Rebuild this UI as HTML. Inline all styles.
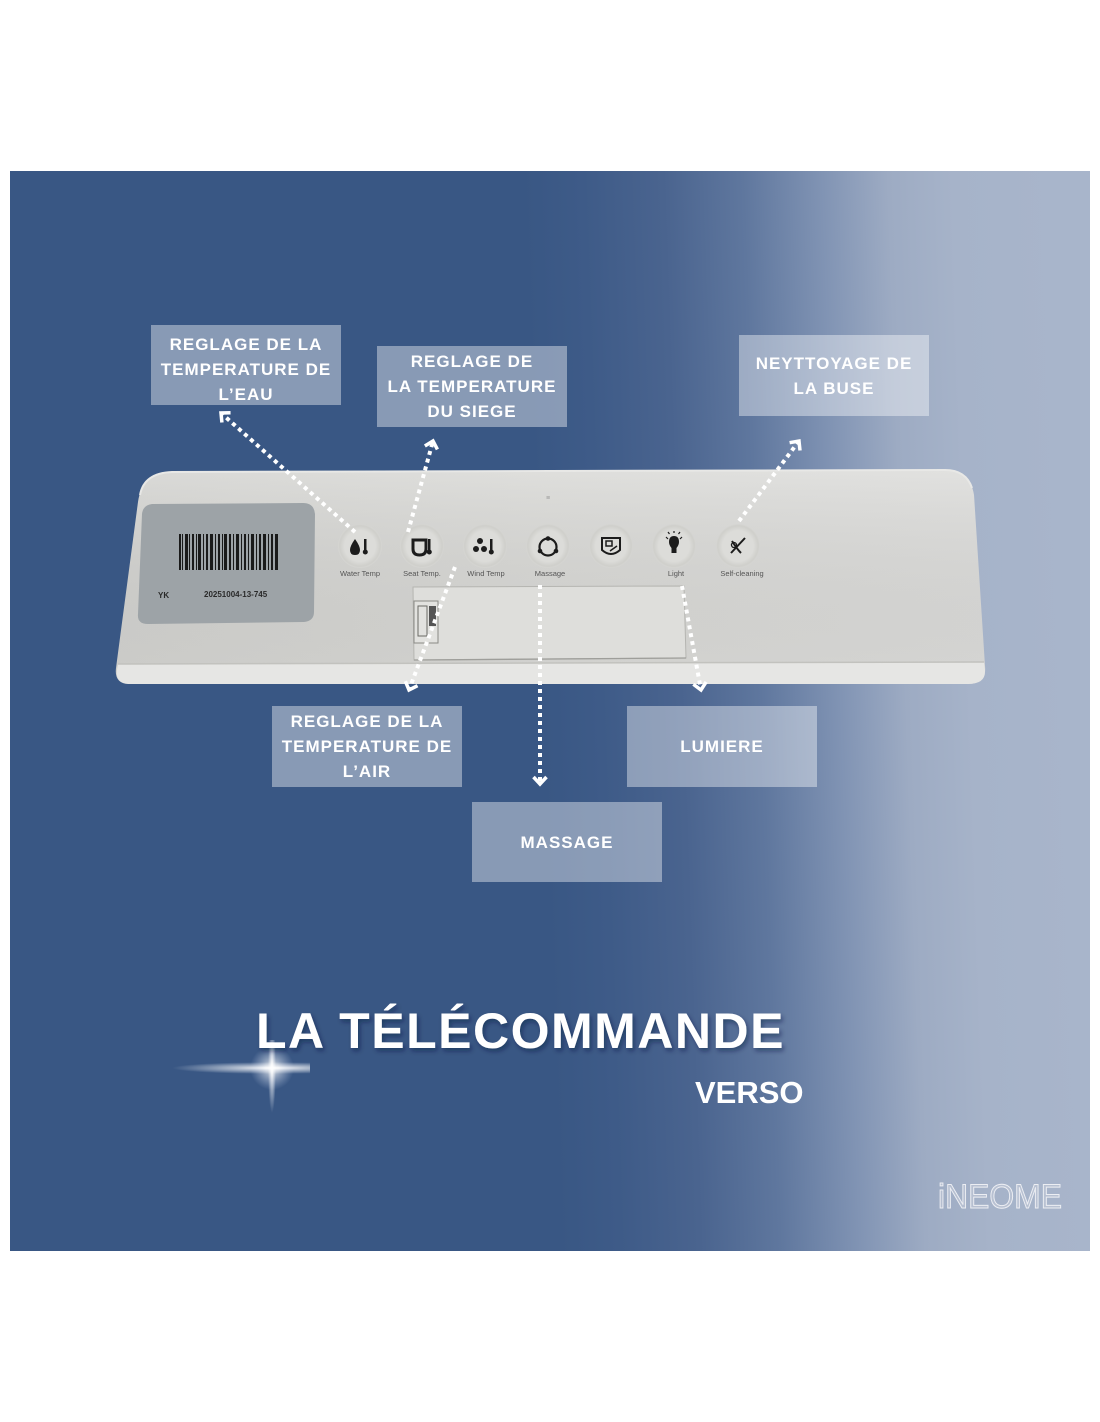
<!DOCTYPE html>
<html><head><meta charset="utf-8">
<style>
html,body{margin:0;padding:0;background:#fff;}
body{width:1100px;height:1422px;position:relative;overflow:hidden;font-family:"Liberation Sans",sans-serif;}
#bg{position:absolute;left:10px;top:171px;width:1080px;height:1080px;
background:linear-gradient(88deg,#395784 0px,#395784 550px,#3e5b88 610px,#4a648f 690px,#5f779e 770px,#8194b4 850px,#9dabc3 915px,#a6b3c9 980px,#a8b5cb 1080px);}
svg{position:absolute;left:0;top:0;}
.box{position:absolute;width:190px;height:81px;background:rgba(255,255,255,0.4);color:#fff;font-weight:bold;font-size:17px;line-height:25px;letter-spacing:1px;text-align:center;display:flex;align-items:center;justify-content:center;box-sizing:border-box;white-space:nowrap;}
</style></head><body>
<div id="bg"></div>
<svg width="1100" height="1422" viewBox="0 0 1100 1422">
<defs>
<linearGradient id="pg" x1="0" y1="0" x2="1" y2="0">
<stop offset="0" stop-color="#d3d3d0"/><stop offset="0.5" stop-color="#d9d9d6"/><stop offset="1" stop-color="#dcdcda"/>
</linearGradient>
<linearGradient id="pv" x1="0" y1="0" x2="0" y2="1">
<stop offset="0" stop-color="#fff" stop-opacity="0.15"/><stop offset="1" stop-color="#000" stop-opacity="0.03"/>
</linearGradient>
<radialGradient id="btn" cx="0.5" cy="0.5" r="0.5">
<stop offset="0.7" stop-color="#dcdcd9"/><stop offset="0.92" stop-color="#cfcfcb"/><stop offset="1" stop-color="#d6d6d3"/>
</radialGradient>
<radialGradient id="glowH" cx="0.5" cy="0.5" r="0.5">
<stop offset="0" stop-color="#fff" stop-opacity="1"/><stop offset="0.35" stop-color="#fff" stop-opacity="0.6"/><stop offset="1" stop-color="#fff" stop-opacity="0"/>
</radialGradient>
<radialGradient id="glowC" cx="0.5" cy="0.5" r="0.5">
<stop offset="0" stop-color="#fff" stop-opacity="1"/><stop offset="0.3" stop-color="#fff" stop-opacity="0.7"/><stop offset="1" stop-color="#c8d4ec" stop-opacity="0"/>
</radialGradient>
<clipPath id="spk"><rect x="150" y="1040" width="160" height="80"/></clipPath>
<marker id="ah" viewBox="-10 -10 20 20" markerWidth="20" markerHeight="20" markerUnits="userSpaceOnUse" orient="auto">
<path d="M-7 -6.5 L0 0 L-7 6.5" fill="none" stroke="#fff" stroke-width="3.5"/>
</marker>
<filter id="ts" x="-5%" y="-20%" width="110%" height="150%"><feDropShadow dx="2" dy="3" stdDeviation="2.5" flood-color="#0a1a3a" flood-opacity="0.45"/></filter>
</defs>

<!-- remote panel -->
<path id="pan" d="M172 472 L945 470 Q970 470 974 495 L985 666 Q987 684 968 684 L130 684 Q114 684 116 668 L138 502 Q142 473 172 472 Z" fill="url(#pg)"/>
<path d="M172 472 L945 470 Q970 470 974 495 L985 666 Q987 684 968 684 L130 684 Q114 684 116 668 L138 502 Q142 473 172 472 Z" fill="url(#pv)"/>
<path d="M118 664 L984 662 L985 670 Q986 684 968 684 L130 684 Q115 684 117 670 Z" fill="#e6e6e4"/>
<path d="M118 664 L984 662" stroke="#c2c2be" stroke-width="1.5"/>
<path d="M140 495 Q144 473 172 472 L945 470 Q966 470 972 488" fill="none" stroke="#e8e8e6" stroke-width="2"/>

<!-- barcode label -->
<path d="M152 504 L303 503 Q314 503 315 514 L314 612 Q314 621 304 622 L148 624 Q137 624 138 614 L142 514 Q143 505 152 504 Z" fill="#9da3a7"/>
<g fill="#1a1a1a">
<rect x="179" y="534" width="2" height="36"/><rect x="182" y="534" width="1" height="36"/><rect x="185" y="534" width="3" height="36"/><rect x="189" y="534" width="1" height="36"/><rect x="192" y="534" width="2" height="36"/><rect x="196" y="534" width="1" height="36"/><rect x="198" y="534" width="3" height="36"/><rect x="203" y="534" width="1" height="36"/><rect x="206" y="534" width="2" height="36"/><rect x="210" y="534" width="3" height="36"/><rect x="215" y="534" width="1" height="36"/><rect x="218" y="534" width="2" height="36"/><rect x="222" y="534" width="1" height="36"/><rect x="224" y="534" width="3" height="36"/><rect x="229" y="534" width="2" height="36"/><rect x="233" y="534" width="1" height="36"/><rect x="236" y="534" width="3" height="36"/><rect x="241" y="534" width="1" height="36"/><rect x="244" y="534" width="2" height="36"/><rect x="248" y="534" width="1" height="36"/><rect x="251" y="534" width="3" height="36"/><rect x="256" y="534" width="1" height="36"/><rect x="259" y="534" width="2" height="36"/><rect x="263" y="534" width="3" height="36"/><rect x="268" y="534" width="1" height="36"/><rect x="271" y="534" width="2" height="36"/><rect x="275" y="534" width="3" height="36"/>
</g>
<text x="158" y="598" font-size="8" font-weight="bold" fill="#2a2a2a">YK</text>
<text x="204" y="597" font-size="8" font-weight="bold" fill="#2a2a2a">20251004-13-745</text>

<text x="548" y="500" font-size="7" fill="#999" text-anchor="middle">≡</text>

<!-- buttons -->
<g>
<circle cx="360" cy="546" r="22" fill="url(#btn)"/>
<circle cx="422" cy="546" r="22" fill="url(#btn)"/>
<circle cx="485" cy="546" r="22" fill="url(#btn)"/>
<circle cx="548" cy="546" r="22" fill="url(#btn)"/>
<circle cx="611" cy="546" r="22" fill="url(#btn)"/>
<circle cx="674" cy="546" r="22" fill="url(#btn)"/>
<circle cx="738" cy="546" r="22" fill="url(#btn)"/>
</g>
<g fill="#1c1c1c" stroke="none">
<path d="M355 539 Q350 546 350 550 Q350 555 355 555 Q360 555 360 550 Q360 546 355 539Z"/>
<rect x="364" y="539" width="2.5" height="12"/><circle cx="365.3" cy="552" r="2.5"/>
<path d="M413 540 L426 540 L426 549 Q426 555 419.5 555 Q413 555 413 549Z" fill="none" stroke="#1c1c1c" stroke-width="3"/>
<rect x="428" y="539" width="2.5" height="12"/><circle cx="429.3" cy="552" r="2.5"/>
<circle cx="480" cy="541" r="3"/><circle cx="476" cy="549" r="3"/><circle cx="484" cy="549" r="3"/>
<rect x="490" y="539" width="2.5" height="12"/><circle cx="491.3" cy="552" r="2.5"/>
<circle cx="548" cy="547" r="8.5" fill="none" stroke="#1c1c1c" stroke-width="2.2"/>
<circle cx="548" cy="538.5" r="2.3"/><circle cx="540" cy="551" r="2.3"/><circle cx="556" cy="551" r="2.3"/>
<path d="M602 538 L620 538 L620 550 Q611 558 602 550Z" fill="none" stroke="#1c1c1c" stroke-width="2"/>
<rect x="606" y="541" width="6" height="5" fill="none" stroke="#1c1c1c" stroke-width="1.5"/>
<path d="M610 551 L617 546" stroke="#1c1c1c" stroke-width="1.5"/>
<path d="M669 542 Q669 536 674 536 Q679 536 679 542 Q679 545 676.5 548 L676.5 553 L671.5 553 L671.5 548 Q669 545 669 542Z"/>
<path d="M666 537 L668 539 M682 537 L680 539 M674 531 L674 533 M668 532 L669.5 534 M680 532 L678.5 534" stroke="#1c1c1c" stroke-width="1.2"/>
<path d="M731 553 L745 538 M732 541 Q737 549 741 553" stroke="#1c1c1c" stroke-width="2" fill="none"/>
<circle cx="734" cy="545" r="2.5" fill="none" stroke="#1c1c1c" stroke-width="1.3"/>
</g>
<g font-size="7.5" fill="#555" text-anchor="middle">
<text x="360" y="576">Water Temp</text>
<text x="422" y="576">Seat Temp.</text>
<text x="486" y="576">Wind Temp</text>
<text x="550" y="576">Massage</text>
<text x="676" y="576">Light</text>
<text x="742" y="576">Self-cleaning</text>
</g>

<!-- lower recessed rect -->
<path d="M413 587 L684 586 L686 658 L414 660 Z" fill="#dededb" stroke="#b5b5b1" stroke-width="1"/>
<path d="M414 660 L686 658" stroke="#9e9e9a" stroke-width="1.3"/>
<rect x="414" y="601" width="24" height="42" fill="#e2e2df" stroke="#8a8a86" stroke-width="1"/>
<rect x="418" y="606" width="9" height="30" fill="none" stroke="#6a6a66" stroke-width="1"/>
<rect x="429" y="606" width="7" height="20" fill="#555"/>

<!-- arrows -->
<g stroke="#fff" stroke-width="4" stroke-dasharray="4 4" fill="none">
<line x1="355" y1="532" x2="221" y2="413" marker-end="url(#ah)"/>
<line x1="408" y1="532" x2="433" y2="441" marker-end="url(#ah)"/>
<line x1="455" y1="567" x2="409" y2="690" marker-end="url(#ah)"/>
<line x1="540" y1="585" x2="540" y2="784" marker-end="url(#ah)"/>
<line x1="682" y1="586" x2="701" y2="690" marker-end="url(#ah)"/>
<line x1="739" y1="521" x2="799" y2="441" marker-end="url(#ah)"/>
</g>

<!-- sparkle -->
<g clip-path="url(#spk)">
<ellipse cx="272" cy="1068" rx="100" ry="6" fill="url(#glowH)"/>
<ellipse cx="272" cy="1068" rx="4" ry="45" fill="url(#glowH)"/>
<circle cx="272" cy="1068" r="22" fill="url(#glowC)" opacity="0.8"/>
</g>

<!-- title -->
<text x="256" y="1048" font-size="50" font-weight="bold" fill="#fff" letter-spacing="1.5" filter="url(#ts)">LA TÉLÉCOMMANDE</text>
<text x="695" y="1103" font-size="31" font-weight="bold" fill="#fff">VERSO</text>

<!-- logo -->
<text x="938" y="1208" font-size="34" fill="#c7ccd8" fill-opacity="0.55" stroke="#eceef3" stroke-width="1" textLength="124" lengthAdjust="spacingAndGlyphs">iNEOME</text>
</svg>

<div class="box" style="left:151px;top:325px;height:80px;padding-top:9px;">REGLAGE DE LA<br>TEMPERATURE DE<br>L’EAU</div>
<div class="box" style="left:377px;top:346px;">REGLAGE DE<br>LA TEMPERATURE<br>DU SIEGE</div>
<div class="box" style="left:739px;top:335px;">NEYTTOYAGE DE<br>LA BUSE</div>
<div class="box" style="left:272px;top:706px;">REGLAGE DE LA<br>TEMPERATURE DE<br>L’AIR</div>
<div class="box" style="left:627px;top:706px;">LUMIERE</div>
<div class="box" style="left:472px;top:802px;height:80px;">MASSAGE</div>
</body></html>
